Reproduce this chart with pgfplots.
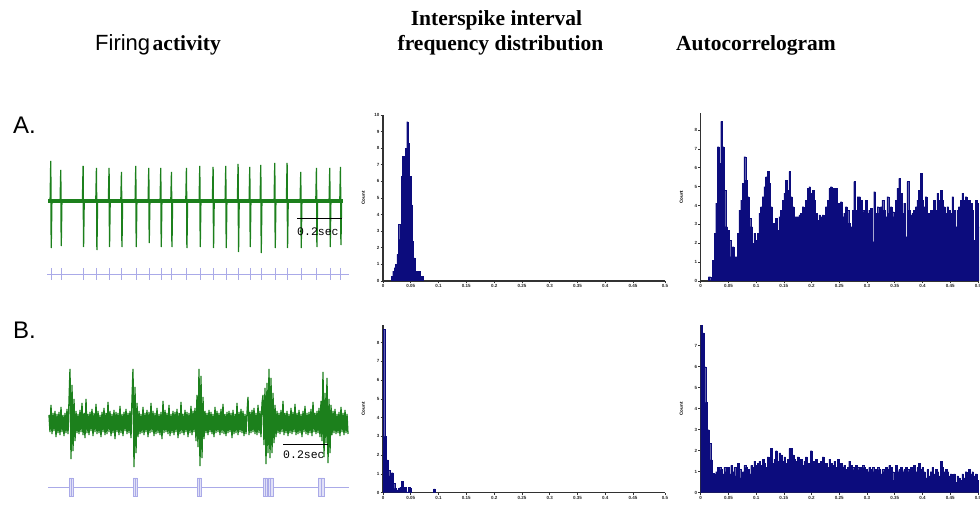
\documentclass[border=0pt]{standalone}
\usepackage{fontspec}
\setmainfont{Liberation Serif}
\newfontfamily\arialfont{Liberation Sans}
\newfontfamily\monofont{Liberation Mono}
\usepackage{pgfplots}
\pgfplotsset{compat=1.18}
\definecolor{navyb}{RGB}{12,12,125}
\definecolor{trgreen}{RGB}{28,128,28}
\definecolor{lav}{RGB}{170,170,232}
\definecolor{axg}{RGB}{50,50,50}
\pgfplotsset{
  histax/.style={scale only axis, axis x line=bottom, axis y line=left,
    axis line style={-, line width=1.3pt, color=axg},
    tick style={axg, line width=0.7pt}, major tick length=2.5pt, tick align=outside,
    /pgf/number format/assume math mode=true,
    ticklabel style={font=\arialfont\bfseries\fontsize{4.5}{5}\selectfont, text=black!85, inner sep=1pt},
    xmin=0, ymin=0, enlargelimits=false, clip=true,
    ylabel={Count}, ylabel style={font=\arialfont\bfseries\fontsize{4.5}{5}\selectfont, at={(axis description cs:-0.07,0.5)}, anchor=center},
    xticklabels={0,0.05,0.1,0.15,0.2,0.25,0.3,0.35,0.4,0.45,0.5}},
  traceax/.style={scale only axis, axis lines=none, clip=false, enlargelimits=false},
}
\begin{document}
\begin{tikzpicture}
\useasboundingbox (0pt,0pt) rectangle (980pt,506pt);
% ---------- titles ----------
\node[anchor=base, font=\fontsize{21.5}{24}\selectfont\bfseries] at (496.5pt,480pt) {Interspike interval};
\node[anchor=base, font=\fontsize{21.5}{24}\selectfont\bfseries] at (500.5pt,455pt) {frequency distribution};
\node[anchor=base, font=\fontsize{21.5}{24}\selectfont\bfseries] at (756pt,455pt) {Autocorrelogram};
\node[anchor=base west, inner sep=0pt] at (95pt,455pt) {{\arialfont\fontsize{22}{24}\selectfont Firing} {\fontsize{21.5}{24}\selectfont\bfseries activity}};
\node[anchor=base west, inner sep=0pt, font=\arialfont\fontsize{24}{26}\selectfont] at (13pt,372pt) {A.};
\node[anchor=base west, inner sep=0pt, font=\arialfont\fontsize{24}{26}\selectfont] at (13pt,167pt) {B.};

% ---------- A: firing trace ----------
\begin{axis}[traceax, at={(48pt,220pt)}, anchor=south west, width=295pt, height=130pt,
  xmin=0, xmax=1.3111, ymin=-85, ymax=45]
\addplot[trgreen, line width=4.5pt] coordinates {(0,0)(1.3111,0)};
\addplot[trgreen, line width=1.3pt, sharp plot] coordinates {
(0.0093,0)(0.0123,40)(0.0143,-47)(0.0173,0)
(0.0538,0)(0.0568,31)(0.0588,-45)(0.0618,0)
(0.153,0)(0.156,35)(0.158,-46)(0.161,0)
(0.2124,0)(0.2154,33)(0.2174,-49)(0.2204,0)
(0.2684,0)(0.2714,33)(0.2734,-46)(0.2764,0)
(0.3236,0)(0.3266,29)(0.3286,-46)(0.3316,0)
(0.3871,0)(0.3901,35)(0.3921,-46)(0.3951,0)
(0.4449,0)(0.4479,33)(0.4499,-42)(0.4529,0)
(0.4982,0)(0.5012,33)(0.5032,-46)(0.5062,0)
(0.5458,0)(0.5488,29)(0.5508,-46)(0.5538,0)
(0.6124,0)(0.6154,33)(0.6174,-47)(0.6204,0)
(0.6716,0)(0.6746,35)(0.6766,-46)(0.6796,0)
(0.7307,0)(0.7337,34)(0.7357,-47)(0.7387,0)
(0.7871,0)(0.7901,35)(0.7921,-47)(0.7951,0)
(0.8418,0)(0.8448,37)(0.8468,-51)(0.8498,0)
(0.8938,0)(0.8968,34)(0.8988,-46)(0.9018,0)
(0.9427,0)(0.9457,36)(0.9477,-52)(0.9507,0)
(1.0049,0)(1.0079,38)(1.0099,-47)(1.0129,0)
(1.0596,0)(1.0626,38)(1.0646,-47)(1.0676,0)
(1.1204,0)(1.1234,29)(1.1254,-47)(1.1284,0)
(1.1902,0)(1.1932,33)(1.1952,-46)(1.1982,0)
(1.2493,0)(1.2523,33)(1.2543,-46)(1.2573,0)
(1.2969,0)(1.2999,34)(1.3019,-44)(1.3049,0)};
% scale bar
\addplot[black, line width=1pt] coordinates {(1.1067,-18)(1.3067,-18)};
\node[anchor=base west, inner sep=0pt, font=\monofont\fontsize{11.5}{12}\selectfont] at (axis cs:1.1067,-35) {0.2sec};
% raster
\addplot[lav, line width=0.8pt] coordinates {(-0.004,-73)(1.3378,-73)};
\addplot[lav, line width=0.8pt, unbounded coords=jump] coordinates {
(0.0133,-67)(0.0133,-79)(0.0133,nan)(0.0578,-67)(0.0578,-79)(0.0578,nan)
(0.157,-67)(0.157,-79)(0.157,nan)(0.2164,-67)(0.2164,-79)(0.2164,nan)
(0.2724,-67)(0.2724,-79)(0.2724,nan)(0.3276,-67)(0.3276,-79)(0.3276,nan)
(0.3911,-67)(0.3911,-79)(0.3911,nan)(0.4489,-67)(0.4489,-79)(0.4489,nan)
(0.5022,-67)(0.5022,-79)(0.5022,nan)(0.5498,-67)(0.5498,-79)(0.5498,nan)
(0.6164,-67)(0.6164,-79)(0.6164,nan)(0.6756,-67)(0.6756,-79)(0.6756,nan)
(0.7347,-67)(0.7347,-79)(0.7347,nan)(0.7911,-67)(0.7911,-79)(0.7911,nan)
(0.8458,-67)(0.8458,-79)(0.8458,nan)(0.8978,-67)(0.8978,-79)(0.8978,nan)
(0.9467,-67)(0.9467,-79)(0.9467,nan)(1.0089,-67)(1.0089,-79)(1.0089,nan)
(1.0636,-67)(1.0636,-79)(1.0636,nan)(1.1244,-67)(1.1244,-79)(1.1244,nan)
(1.1942,-67)(1.1942,-79)(1.1942,nan)(1.2533,-67)(1.2533,-79)(1.2533,nan)
(1.3009,-67)(1.3009,-79)};
\end{axis}

% ---------- B: firing trace ----------
\begin{axis}[traceax, at={(49pt,8pt)}, anchor=south west, width=300pt, height=135pt,
  xmin=0, xmax=300, ymin=-75, ymax=60]
\addplot[trgreen, line width=1.3pt, sharp plot] table[x expr=\coordindex, y index=0, header=false, row sep=\\] {
8\\-9\\18\\-11\\10\\-8\\12\\-14\\9\\-10\\
11\\-12\\16\\-9\\8\\-13\\10\\-10\\14\\-11\\
22\\54\\-36\\38\\-28\\24\\-18\\12\\-10\\9\\
-11\\13\\-9\\20\\-12\\10\\-15\\24\\-10\\9\\
-12\\11\\-8\\14\\-13\\10\\-9\\19\\-11\\12\\
-10\\8\\-14\\11\\-9\\15\\-12\\10\\-11\\21\\
-9\\12\\-13\\9\\-10\\13\\-16\\11\\-9\\10\\
-12\\17\\-10\\9\\-13\\11\\-8\\14\\-11\\10\\
-10\\12\\-15\\24\\54\\-44\\36\\-30\\20\\-14\\
12\\-11\\9\\-10\\16\\-12\\10\\-9\\13\\-14\\
11\\-10\\20\\-9\\12\\-13\\10\\-11\\15\\-10\\
9\\-12\\11\\-16\\22\\-10\\13\\-9\\10\\-11\\
18\\-13\\9\\-10\\12\\-12\\11\\-9\\14\\-15\\
10\\-11\\21\\-10\\9\\-12\\13\\-9\\11\\-14\\
10\\-10\\17\\-12\\12\\-9\\15\\-18\\28\\-24\\
54\\-43\\47\\-35\\26\\-16\\12\\-10\\10\\-12\\
13\\-9\\11\\-11\\9\\-14\\16\\-10\\12\\-9\\
10\\-12\\14\\-10\\19\\-11\\9\\-13\\11\\-10\\
12\\-9\\10\\-15\\13\\-11\\9\\-10\\20\\-12\\
11\\-9\\14\\-10\\12\\-13\\9\\-11\\10\\26\\
-12\\11\\-10\\13\\-9\\15\\-11\\10\\-12\\18\\
-10\\12\\-14\\20\\28\\-22\\35\\-41\\40\\-30\\
54\\-35\\45\\-30\\30\\-20\\18\\-14\\12\\-10\\
10\\-11\\13\\-9\\22\\-12\\10\\-10\\12\\-13\\
9\\-10\\15\\-11\\11\\-9\\19\\-12\\10\\-11\\
13\\-10\\9\\-14\\12\\-9\\17\\-11\\10\\-12\\
11\\-10\\14\\-13\\21\\-9\\10\\-11\\12\\-10\\
15\\-14\\22\\-18\\51\\-34\\30\\-20\\45\\-40\\
24\\-30\\18\\-12\\12\\-10\\14\\-11\\9\\-10\\
11\\-13\\16\\-9\\10\\-12\\13\\-10\\9\\-11\\
};
% scale bar
\addplot[black, line width=1pt] coordinates {(234,-22)(279,-22)};
\node[anchor=base west, inner sep=0pt, font=\monofont\fontsize{11.5}{12}\selectfont] at (axis cs:234,-36) {0.2sec};
% raster with bursts
\addplot[lav, line width=0.8pt] coordinates {(-1,-64)(300,-64)};
\addplot[lav, line width=0.9pt, fill=lav!35] coordinates {(20,-55)(24,-55)(24,-73)(20,-73)(20,-55)};
\addplot[lav, line width=0.9pt, fill=lav!35] coordinates {(84,-55)(88,-55)(88,-73)(84,-73)(84,-55)};
\addplot[lav, line width=0.9pt, fill=lav!35] coordinates {(148,-55)(152,-55)(152,-73)(148,-73)(148,-55)};
\addplot[lav, line width=0.9pt, fill=lav!35] coordinates {(214,-55)(218,-55)(218,-73)(214,-73)(214,-55)};
\addplot[lav, line width=0.9pt, fill=lav!35] coordinates {(219,-55)(224,-55)(224,-73)(219,-73)(219,-55)};
\addplot[lav, line width=0.9pt, fill=lav!35] coordinates {(269,-55)(275,-55)(275,-73)(269,-73)(269,-55)};
\addplot[lav, line width=0.7pt, unbounded coords=jump] coordinates {
(22,-55)(22,-73)(22,nan)(86,-55)(86,-73)(86,nan)(150,-55)(150,-73)(150,nan)
(216,-55)(216,-73)(216,nan)(221.5,-55)(221.5,-73)(221.5,nan)(272,-55)(272,-73)};
\end{axis}

% ---------- A: ISI histogram ----------
\begin{axis}[histax, at={(383pt,225pt)}, anchor=south west, width=282pt, height=166pt,
  xmax=10.15, ymax=10, xtick={0,1,2,3,4,5,6,7,8,9,10.15}, ytick={0,1,...,10}]
\addplot[const plot, fill=navyb, draw=navyb, line width=0.2pt] coordinates {
(0.30,0.3)(0.35,0.6)(0.40,0.8)(0.45,1.0)(0.50,1.6)(0.55,3.4)(0.60,2.5)(0.65,6.3)
(0.70,7.5)(0.75,6.5)(0.80,8.0)(0.85,9.6)(0.90,8.3)(0.95,6.3)(1.00,4.6)(1.05,2.4)
(1.10,1.4)(1.15,0.6)(1.20,0.6)(1.25,0.6)(1.30,0.6)(1.35,0.3)(1.40,0.3)(1.45,0)} \closedcycle;
\end{axis}

% ---------- B: ISI histogram ----------
\begin{axis}[histax, at={(383pt,13.3pt)}, anchor=south west, width=282pt, height=167.7pt,
  xmax=10.15, ymax=8.94, xtick={0,1,2,3,4,5,6,7,8,9,10.15}, ytick={0,1,...,8}]
\addplot[const plot, fill=navyb, draw=navyb, line width=0.2pt] coordinates {
(0,8.7)(0.06,3.0)(0.12,1.75)(0.18,1.2)(0.24,0.9)(0.30,1.07)(0.36,0.5)(0.42,0.23)
(0.48,0.15)(0.54,0.23)(0.60,0.28)(0.66,0.6)(0.72,0.3)(0.78,0.28)(0.84,0.05)
(0.90,0.28)(0.96,0.23)(1.02,0)} \closedcycle;
\addplot[const plot, fill=navyb, draw=navyb, line width=0.2pt] coordinates {(1.82,0.2)(1.88,0)} \closedcycle;
\end{axis}

% ---------- A: autocorrelogram ----------
\begin{axis}[histax, at={(700.7pt,225pt)}, anchor=south west, width=278.3pt, height=168pt,
  xmax=10.04, ymax=8.9, xtick={0,1,...,10}, ytick={0,1,...,8}]
\addplot[const plot, fill=navyb, draw=navyb, line width=0.2pt] coordinates {(0.28,0.23)(0.36,0)} \closedcycle;
\addplot[const plot, fill=navyb, draw=navyb, line width=0.2pt] table[x expr=0.42+0.06*\coordindex, y index=0, header=false, row sep=\\] {
1.11\\2.53\\4.12\\7.12\\6.24\\8.45\\7.12\\4.82\\2.88\\2.70\\
2.17\\1.29\\1.82\\1.29\\1.29\\2.53\\3.76\\4.29\\5.18\\6.59\\
5.35\\4.47\\3.32\\2.88\\2.00\\2.53\\2.17\\2.53\\3.59\\3.94\\
4.47\\5.00\\5.53\\5.80\\5.18\\3.94\\3.06\\2.88\\3.32\\2.70\\
3.41\\3.76\\4.29\\4.65\\5.35\\4.82\\5.80\\4.47\\3.94\\3.41\\
3.41\\3.41\\3.50\\3.59\\3.94\\3.41\\4.29\\4.91\\5.00\\4.65\\
4.82\\4.29\\3.59\\3.23\\3.50\\3.41\\3.50\\2.70\\3.94\\4.29\\
4.91\\5.00\\4.91\\4.29\\4.91\\4.12\\3.59\\4.20\\3.41\\3.59\\
3.94\\3.76\\3.06\\2.88\\3.76\\5.27\\3.76\\4.47\\4.47\\4.29\\
3.76\\3.67\\4.29\\3.59\\3.76\\3.85\\2.08\\4.73\\3.59\\3.94\\
3.59\\3.94\\4.29\\3.76\\3.41\\4.47\\3.59\\3.94\\3.67\\3.41\\
4.29\\4.91\\5.44\\4.65\\3.59\\4.12\\2.35\\5.27\\3.76\\3.50\\
3.59\\3.76\\3.94\\4.29\\4.82\\5.71\\4.29\\3.94\\4.47\\3.59\\
3.59\\3.76\\3.23\\4.29\\3.76\\4.65\\4.29\\4.82\\4.29\\3.94\\
3.59\\3.94\\3.76\\3.59\\4.47\\3.76\\2.88\\3.76\\3.94\\4.29\\
4.65\\4.29\\4.47\\4.12\\4.29\\4.12\\3.76\\2.17\\4.29\\4.12\\
2.88\\0\\
} \closedcycle;
\end{axis}

% ---------- B: autocorrelogram ----------
\begin{axis}[histax, at={(700.7pt,13.3pt)}, anchor=south west, width=278.3pt, height=167.7pt,
  xmax=10.04, ymax=7.98, xtick={0,1,...,10}, ytick={0,1,...,7}]
\addplot[const plot, fill=navyb, draw=navyb, line width=0.2pt] table[x expr=0.06*\coordindex, y index=0, header=false, row sep=\\] {
7.98\\7.6\\6.0\\4.3\\3.0\\2.35\\1.56\\0.92\\
0.9\\1.0\\1.2\\1.2\\1.1\\0.9\\1.2\\1.0\\
1.2\\0.9\\1.3\\1.0\\1.2\\0.8\\1.4\\1.1\\
0.7\\1.0\\1.3\\1.2\\1.1\\0.9\\1.3\\1.2\\1.5\\1.3\\
1.4\\1.5\\1.3\\1.6\\1.4\\1.2\\1.7\\1.5\\2.1\\1.4\\
1.6\\2.0\\1.5\\1.9\\1.8\\1.5\\1.7\\1.4\\1.6\\2.1\\
2.1\\1.8\\1.6\\1.5\\1.7\\1.4\\1.6\\1.3\\1.5\\1.7\\
1.4\\1.3\\2.0\\1.5\\1.1\\1.6\\1.4\\1.2\\1.5\\1.7\\
1.3\\1.4\\1.2\\1.6\\1.4\\1.3\\1.5\\1.2\\1.6\\1.3\\
1.4\\1.2\\1.3\\1.1\\1.2\\1.5\\1.3\\1.2\\1.1\\1.3\\
1.2\\1.1\\1.2\\1.3\\1.2\\1.1\\1.0\\1.2\\1.1\\1.2\\
1.0\\1.1\\1.2\\1.1\\0.9\\1.1\\1.0\\1.2\\1.1\\1.3\\
1.2\\1.0\\0.6\\1.3\\1.0\\1.1\\1.2\\1.0\\1.1\\1.2\\
1.1\\1.0\\1.2\\1.1\\1.3\\1.0\\1.2\\1.4\\1.1\\1.2\\
1.0\\0.7\\1.1\\0.8\\1.0\\1.2\\0.9\\1.1\\1.0\\0.8\\
1.5\\1.2\\1.0\\1.1\\1.0\\0.8\\0.9\\0.6\\0.9\\0.5\\
0.8\\0.7\\0.6\\0.9\\0.7\\1.0\\0.8\\1.1\\0.9\\1.0\\0.8\\0.9\\0.6\\
0\\
} \closedcycle;
\end{axis}
\end{tikzpicture}
\end{document}
